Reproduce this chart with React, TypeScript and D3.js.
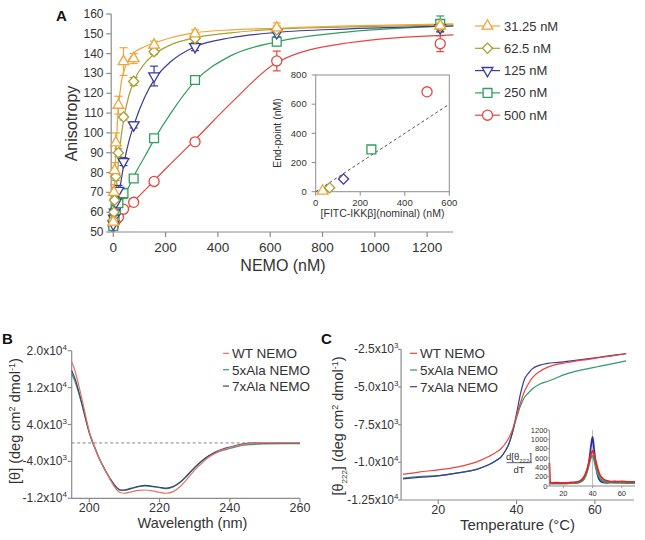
import React from "react";
import * as d3 from "d3";

const FONT = "'Liberation Sans', Arial, Helvetica, sans-serif";
const AXIS = "#8c8c8c";
const TXT = "#333333";

// ---------------- Panel A data ----------------
const nemoConc = [0, 2.44, 4.88, 9.77, 19.5, 39, 78, 156, 312.5, 625, 1250];
const seriesLabels = ["31.25 nM", "62.5 nM", "125 nM", "250 nM", "500 nM"];
const seriesColors = ["#F2A33A", "#A6A032", "#3B3B9A", "#2F9E5E", "#E5473E"];
const seriesShapes = ["triangle", "diamond", "triangleDown", "square", "circle"];

const aniso31 = [55, 70, 81, 95, 114, 136, 137.5, 144.3, 150, 153, 154];
const aniso62 = [56, 60, 66, 78, 90, 108, 126, 141, 147.7, 152, 154];
const aniso125 = [54, 57, 60, 65, 71, 85.5, 104, 128.7, 143.5, 150.5, 153];
const aniso250 = [53, 56, 58, 61, 64.5, 69.5, 77, 97.3, 126.7, 146, 155];
const aniso500 = [53, 54.5, 55.5, 56, 57.5, 61.5, 65, 75.5, 95.5, 136.3, 145];

const err31 = [2, 4, 4, 5, 4.5, 7, 2.5, 2, 2, 2.5, 2];
const err62 = [1.5, 2, 2, 2, 2, 1.5, 2, 1.5, 2, 2, 2];
const err125 = [1.5, 2, 2, 2, 2.5, 2, 1.5, 5, 2, 2, 2];
const err250 = [1.5, 2, 2, 2, 2, 2.5, 1.5, 1.5, 1.5, 2, 4];
const err500 = [1.5, 1.5, 1.5, 1.5, 1.5, 1.5, 1.5, 1.5, 1.5, 5, 4];

// fitted curves
const fitNemo = [0, 2.5, 5, 10, 15, 20, 30, 40, 60, 80, 120, 160, 220, 312, 450, 625, 900, 1300];
const fit31 = [55, 65, 75, 90, 104, 113, 125, 131, 137, 140.5, 143.5, 145.5, 148, 150.5, 152, 152.8, 154, 155];
const fit62 = [55, 58, 62, 70, 78, 86, 98, 107, 119, 126.5, 135, 140, 144.5, 148, 150.5, 152.4, 153.5, 154.5];
const fit125 = [54, 55.5, 57, 60.5, 64, 68, 76, 84, 96, 104.5, 118, 127.5, 136, 143.5, 148, 150.7, 152.5, 154];
const fit250 = [53, 54, 55, 57, 59, 61, 64.5, 68, 73, 78.5, 88, 97.5, 110, 126, 139, 146, 151, 154];
const fit500 = [53, 53.4, 53.8, 54.6, 55.4, 56.2, 57.8, 59.4, 62.5, 65.5, 71, 76.5, 84.5, 96.5, 115, 135.5, 145.5, 149.5];

const aYTicks = [50, 60, 70, 80, 90, 100, 110, 120, 130, 140, 150, 160];
const aXTicks = [0, 200, 400, 600, 800, 1000, 1200];

// inset A
const nominalIkk = [31.25, 62.5, 125, 250, 500];
const endPoint = [5, 27, 87, 290, 685];
const insetShapes = ["triangle", "diamond", "diamond", "square", "circle"];
const insetXTicks = [0, 200, 400, 600];
const insetYTicks = [0, 200, 400, 600, 800];
const identityLine = [0, 600];

// ---------------- Panel B data ----------------
const wavelength = [195, 196, 197, 198, 199, 200, 201, 202, 203, 204, 205, 206, 207, 208, 209, 210, 212, 214, 216, 218, 220, 222, 224, 226, 228, 230, 232, 234, 236, 238, 240, 242, 244, 246, 248, 250, 255, 260];
const cdWT = [17600, 15500, 12500, 9300, 5800, 2500, 200, -1800, -3600, -5200, -6600, -8000, -9300, -10300, -10800, -10900, -10600, -10300, -10200, -10400, -10700, -10900, -10500, -9400, -7700, -5900, -4400, -3100, -2200, -1500, -1000, -600, -300, -100, 0, 50, 80, 80];
const cd5x = [15000, 13200, 10800, 8000, 5000, 2200, 0, -1900, -3700, -5200, -6600, -7900, -9000, -9900, -10300, -10300, -9900, -9500, -9300, -9500, -9700, -9900, -9500, -8500, -7000, -5400, -4000, -2900, -2100, -1600, -1200, -800, -500, -350, -250, -200, -150, -150];
const cd7x = [15700, 13800, 11200, 8300, 5200, 2300, 100, -1800, -3600, -5100, -6500, -7800, -8900, -9800, -10200, -10200, -9800, -9400, -9200, -9400, -9600, -9800, -9400, -8400, -6900, -5300, -3900, -2800, -1900, -1300, -900, -500, -200, -50, 0, 30, 50, 50];
const bYTicks = [20000, 12000, 4000, -4000, -12000];
const bYMant = ["2.0x10", "1.2x10", "4.0x10", "-4.0x10", "-1.2x10"];
const bYExp = ["4", "4", "3", "3", "4"];
const bXTicks = [200, 220, 240, 260];
const cdLabels = ["WT NEMO", "5xAla NEMO", "7xAla NEMO"];

// ---------------- Panel C data ----------------
const temperature = [11, 15, 20, 25, 30, 33, 35, 36, 37, 38, 39, 40, 41, 42, 43, 44, 46, 48, 50, 52, 55, 58, 61, 64, 68];
const meltWT = [-10800, -10650, -10500, -10300, -9950, -9600, -9300, -9100, -8800, -8400, -7800, -6900, -6050, -5300, -4800, -4400, -3950, -3680, -3520, -3420, -3280, -3180, -3060, -2950, -2800];
const melt5x = [-11050, -10950, -10880, -10700, -10450, -10150, -9850, -9650, -9300, -8800, -7950, -7050, -6250, -5700, -5400, -5130, -4800, -4620, -4420, -4200, -3960, -3800, -3640, -3480, -3270];
const melt7x = [-11100, -11000, -10900, -10700, -10450, -10150, -9850, -9650, -9300, -8800, -8000, -6750, -5450, -4500, -4100, -3800, -3550, -3430, -3380, -3330, -3230, -3130, -3030, -2920, -2780];
const cYTicks = [-2500, -5000, -7500, -10000, -12500];
const cYMant = ["-2.5x10", "-5.0x10", "-7.5x10", "-1.0x10", "-1.25x10"];
const cYExp = ["3", "3", "3", "4", "4"];
const cXTicks = [20, 40, 60];

// inset C (first derivative)
const derivTemp = [10.5, 11, 12, 15, 20, 25, 30, 33, 35, 36, 37, 38, 39, 40, 41, 42, 43, 44, 45, 47, 50, 55, 60, 65, 69];
const derivWT = [500, 100, 60, 60, 60, 70, 90, 150, 250, 330, 430, 560, 690, 760, 680, 560, 430, 320, 240, 160, 110, 90, 100, 90, 90];
const deriv5x = [60, 50, 50, 50, 50, 60, 70, 110, 200, 290, 400, 520, 620, 650, 560, 430, 320, 230, 170, 110, 80, 70, 70, 60, 60];
const deriv7x = [80, 60, 60, 70, 60, 70, 80, 120, 220, 310, 430, 620, 880, 1050, 800, 500, 300, 180, 120, 80, 70, 100, 80, 60, 70];
const dYTicks = [0, 200, 400, 600, 800, 1000, 1200];
const dXTicks = [20, 40, 60];
const peakTemp = 40;

// ---------------- helpers ----------------
const symSize: Record<string, number> = { circle: 80, square: 78, diamond: 52, triangle: 50, triangleDown: 50 };
function symPath(shape: string, size: number) {
  const t = shape === "circle" ? d3.symbolCircle : shape === "square" || shape === "diamond" ? d3.symbolSquare : d3.symbolTriangle;
  return d3.symbol().type(t).size(size)() as string;
}
function Marker({ shape, x, y, color }: { shape: string; x: number; y: number; color: string }) {
  const rot = shape === "diamond" ? 45 : shape === "triangleDown" ? 180 : 0;
  return (
    <path d={symPath(shape, symSize[shape])} transform={`translate(${x},${y}) rotate(${rot})`} fill="white" stroke={color} strokeWidth={1.3} />
  );
}

export default function App() {
  // ----- Panel A scales -----
  const ax = d3.scaleLinear().domain([-8, 1300]).range([111.2, 453.3]);
  const ay = d3.scaleLinear().domain([50, 160]).range([232, 14]);
  const aSeries = [aniso31, aniso62, aniso125, aniso250, aniso500];
  const aErr = [err31, err62, err125, err250, err500];
  const aFits = [fit31, fit62, fit125, fit250, fit500];
  const fitLine = d3.line<number>().x((_, i) => ax(fitNemo[i])).y((d) => ay(d)).curve(d3.curveMonotoneX);
  const drawOrder = [4, 3, 2, 1, 0];

  const ix = d3.scaleLinear().domain([0, 600]).range([315.7, 449.3]);
  const iy = d3.scaleLinear().domain([0, 800]).range([191.7, 75]);

  // ----- Panel B -----
  const bx = d3.scaleLinear().domain([195, 260]).range([71.7, 300]);
  const by = d3.scaleLinear().domain([-12000, 20000]).range([498.3, 350.7]);
  const bLine = d3.line<number>().x((_, i) => bx(wavelength[i])).y((d) => by(d)).curve(d3.curveMonotoneX);
  const bColors = ["#E8706A", "#2F9A7A", "#3D4470"];
  const bData = [cdWT, cd5x, cd7x];

  // ----- Panel C -----
  const cx = d3.scaleLinear().domain([10.5, 70]).range([401.1, 634]);
  const cy = d3.scaleLinear().domain([-12500, -2500]).range([500, 349.3]);
  const cLine = d3.line<number>().x((_, i) => cx(temperature[i])).y((d) => cy(d)).curve(d3.curveMonotoneX);
  const cColors = ["#E8453C", "#2E9A6E", "#3A3D96"];
  const cData = [meltWT, melt5x, melt7x];

  const dx = d3.scaleLinear().domain([10.4, 69]).range([549.3, 635]);
  const dy = d3.scaleLinear().domain([0, 1200]).range([486, 430]);
  const dLine = d3.line<number>().x((_, i) => dx(derivTemp[i])).y((d) => dy(d)).curve(d3.curveMonotoneX);
  const dColors = ["#E82626", "#2EA070", "#30309A"];
  const dData = [derivWT, deriv5x, deriv7x];

  return (
    <svg width={645} height={540} style={{ position: "absolute", left: 0, top: 0, background: "white" }} fontFamily={FONT}>
      <rect x={0} y={0} width={645} height={540} fill="white" />

      {/* ================= Panel A ================= */}
      <text x={56} y={21} fontSize={15} fontWeight="bold" fill="#111">A</text>
      {/* axes */}
      <line x1={ax(-8)} x2={ax(-8)} y1={ay(50)} y2={ay(160)} stroke={AXIS} strokeWidth={1.2} />
      {aYTicks.map((t) => (
        <g key={"ay" + t}>
          <line x1={ax(-8) - 5} x2={ax(-8)} y1={ay(t)} y2={ay(t)} stroke={AXIS} strokeWidth={1.2} />
          <text x={103.5} y={ay(t) + 4} textAnchor="end" fontSize={12} fill={TXT}>{t}</text>
        </g>
      ))}
      <line x1={ax(-8)} x2={ax(1300)} y1={ay(50)} y2={ay(50)} stroke={AXIS} strokeWidth={1.2} />
      {aXTicks.map((t) => (
        <g key={"ax" + t}>
          <line x1={ax(t)} x2={ax(t)} y1={ay(50)} y2={ay(50) + 5} stroke={AXIS} strokeWidth={1.2} />
          <text x={ax(t)} y={251.5} textAnchor="middle" fontSize={13.5} fill={TXT}>{t}</text>
        </g>
      ))}
      <text transform="translate(77,123.5) rotate(-90)" textAnchor="middle" fontSize={16} fill={TXT}>Anisotropy</text>
      <text x={283} y={270.5} textAnchor="middle" fontSize={16} fill={TXT}>NEMO (nM)</text>

      {/* fit curves */}
      {drawOrder.map((s) => (
        <path key={"fit" + s} d={fitLine(aFits[s]) as string} fill="none" stroke={seriesColors[s]} strokeWidth={1.2} />
      ))}
      {/* error bars */}
      {drawOrder.map((s) =>
        aSeries[s].map((v, i) => {
          const x = ax(nemoConc[i]);
          const e = aErr[s][i];
          return (
            <g key={`eb${s}-${i}`} stroke={seriesColors[s]} strokeWidth={1.2}>
              <line x1={x} x2={x} y1={ay(v - e)} y2={ay(v + e)} />
              <line x1={x - 4} x2={x + 4} y1={ay(v - e)} y2={ay(v - e)} />
              <line x1={x - 4} x2={x + 4} y1={ay(v + e)} y2={ay(v + e)} />
            </g>
          );
        })
      )}
      {/* markers */}
      {drawOrder.map((s) =>
        aSeries[s].map((v, i) => (
          <Marker key={`m${s}-${i}`} shape={seriesShapes[s]} x={ax(nemoConc[i])} y={ay(v)} color={seriesColors[s]} />
        ))
      )}

      {/* legend A */}
      {seriesLabels.map((lab, i) => {
        const y = 26 + i * 22.3;
        return (
          <g key={"lg" + i}>
            <line x1={475} x2={500} y1={y} y2={y} stroke={seriesColors[i]} strokeWidth={1.2} />
            <Marker shape={seriesShapes[i]} x={487.5} y={y} color={seriesColors[i]} />
            <text x={504} y={y + 4.5} fontSize={13} fill={TXT}>{lab}</text>
          </g>
        );
      })}

      {/* inset A */}
      <rect x={ix(0)} y={iy(800)} width={ix(600) - ix(0)} height={iy(0) - iy(800)} fill="white" stroke={AXIS} strokeWidth={1} />
      {insetYTicks.map((t) => (
        <g key={"iy" + t}>
          <line x1={ix(0) - 4} x2={ix(0)} y1={iy(t)} y2={iy(t)} stroke={AXIS} strokeWidth={1} />
          <text x={306.7} y={iy(t) + 3.3} textAnchor="end" fontSize={9.5} fill={TXT}>{t}</text>
        </g>
      ))}
      {insetXTicks.map((t) => (
        <g key={"ix" + t}>
          <line x1={ix(t)} x2={ix(t)} y1={iy(0)} y2={iy(0) + 4} stroke={AXIS} strokeWidth={1} />
          <text x={ix(t)} y={206} textAnchor="middle" fontSize={9.5} fill={TXT}>{t}</text>
        </g>
      ))}
      <line x1={ix(identityLine[0])} y1={iy(identityLine[0])} x2={ix(identityLine[1])} y2={iy(identityLine[1])} stroke="#555" strokeWidth={1} strokeDasharray="3,2.5" />
      {nominalIkk.map((n, i) => (
        <Marker key={"im" + i} shape={insetShapes[i]} x={ix(n)} y={iy(endPoint[i])} color={seriesColors[i]} />
      ))}
      <text transform="translate(281,133) rotate(-90)" textAnchor="middle" fontSize={10.5} fill={TXT}>End-point (nM)</text>
      <text x={382.5} y={217} textAnchor="middle" fontSize={10.5} fill={TXT}>[FITC-IKKβ](nominal) (nM)</text>

      {/* ================= Panel B ================= */}
      <text x={2} y={344} fontSize={15} fontWeight="bold" fill="#111">B</text>
      <line x1={bx(195)} x2={bx(195)} y1={by(-12000)} y2={by(20000)} stroke={AXIS} strokeWidth={1.2} />
      {bYTicks.map((t, i) => (
        <g key={"by" + t}>
          <line x1={bx(195) - 4} x2={bx(195)} y1={by(t)} y2={by(t)} stroke={AXIS} strokeWidth={1.2} />
          <text x={67} y={by(t) + 4} textAnchor="end" fontSize={12} fill={TXT}>
            {bYMant[i]}
            <tspan dy={-5} fontSize={8}>{bYExp[i]}</tspan>
          </text>
        </g>
      ))}
      <line x1={bx(195)} x2={bx(260)} y1={by(-12000)} y2={by(-12000)} stroke={AXIS} strokeWidth={1.2} />
      {bXTicks.map((t) => (
        <g key={"bx" + t}>
          <line x1={bx(t)} x2={bx(t)} y1={by(-12000)} y2={by(-12000) + 4} stroke={AXIS} strokeWidth={1.2} />
          <text x={bx(t)} y={511.7} textAnchor="middle" fontSize={12.5} fill={TXT}>{t}</text>
        </g>
      ))}
      <line x1={bx(195)} x2={bx(260)} y1={by(0)} y2={by(0)} stroke="#777" strokeWidth={0.9} strokeDasharray="3,2.5" />
      {[1, 2, 0].map((s) => (
        <path key={"b" + s} d={bLine(bData[s]) as string} fill="none" stroke={bColors[s]} strokeWidth={1.2} />
      ))}
      <text transform="translate(20,421) rotate(-90)" textAnchor="middle" fontSize={14.5} fill={TXT}>
        [θ] (deg cm<tspan dy={-5} fontSize={9}>2</tspan>
        <tspan dy={5}> dmol</tspan>
        <tspan dy={-5} fontSize={9}>-1</tspan>
        <tspan dy={5}>)</tspan>
      </text>
      <text x={192.5} y={528} textAnchor="middle" fontSize={14.5} fill={TXT}>Wavelength (nm)</text>
      {cdLabels.map((lab, i) => (
        <g key={"lb" + i}>
          <line x1={223} x2={229} y1={353.3 + i * 16.4} y2={353.3 + i * 16.4} stroke={bColors[i]} strokeWidth={1.2} />
          <text x={232} y={358.3 + i * 16.4} fontSize={13.5} fill={TXT}>{lab}</text>
        </g>
      ))}

      {/* ================= Panel C ================= */}
      <text x={321} y={344} fontSize={15} fontWeight="bold" fill="#111">C</text>
      <line x1={cx(10.5)} x2={cx(10.5)} y1={cy(-12500)} y2={cy(-2500)} stroke={AXIS} strokeWidth={1.2} />
      {cYTicks.map((t, i) => (
        <g key={"cy" + t}>
          <line x1={cx(10.5) - 3} x2={cx(10.5)} y1={cy(t)} y2={cy(t)} stroke={AXIS} strokeWidth={1.2} />
          <text x={398.5} y={cy(t) + 4} textAnchor="end" fontSize={12} fill={TXT}>
            {cYMant[i]}
            <tspan dy={-5} fontSize={8}>{cYExp[i]}</tspan>
          </text>
        </g>
      ))}
      <line x1={cx(10.5)} x2={cx(70)} y1={cy(-12500)} y2={cy(-12500)} stroke={AXIS} strokeWidth={1.2} />
      {cXTicks.map((t) => (
        <g key={"cx" + t}>
          <line x1={cx(t)} x2={cx(t)} y1={cy(-12500)} y2={cy(-12500) + 4} stroke={AXIS} strokeWidth={1.2} />
          <text x={cx(t)} y={513.5} textAnchor="middle" fontSize={12.5} fill={TXT}>{t}</text>
        </g>
      ))}
      {[1, 2, 0].map((s) => (
        <path key={"c" + s} d={cLine(cData[s]) as string} fill="none" stroke={cColors[s]} strokeWidth={1.2} />
      ))}
      <text transform="translate(343,426) rotate(-90)" textAnchor="middle" fontSize={14.5} fill={TXT}>
        [θ<tspan dy={4} fontSize={8}>222</tspan>
        <tspan dy={-4}>] (deg cm</tspan>
        <tspan dy={-5} fontSize={9}>2</tspan>
        <tspan dy={5}> dmol</tspan>
        <tspan dy={-5} fontSize={9}>-1</tspan>
        <tspan dy={5}>)</tspan>
      </text>
      <text x={517.5} y={530} textAnchor="middle" fontSize={15} fill={TXT}>Temperature (°C)</text>
      {cdLabels.map((lab, i) => (
        <g key={"lc" + i}>
          <line x1={410} x2={417} y1={353.3 + i * 16.7} y2={353.3 + i * 16.7} stroke={cColors[i]} strokeWidth={1.2} />
          <text x={420} y={358.3 + i * 16.7} fontSize={13.5} fill={TXT}>{lab}</text>
        </g>
      ))}

      {/* inset C */}
      <line x1={dx(peakTemp)} x2={dx(peakTemp)} y1={dy(1200)} y2={dy(0)} stroke="#aaa" strokeWidth={0.8} />
      {[2, 1, 0].map((s) => (
        <path key={"d" + s} d={dLine(dData[s]) as string} fill="none" stroke={dColors[s]} strokeWidth={1.8} />
      ))}
      <line x1={dx(10.4)} x2={dx(10.4)} y1={dy(0)} y2={dy(1200)} stroke={AXIS} strokeWidth={1} />
      <line x1={dx(10.4)} x2={dx(69)} y1={dy(0)} y2={dy(0)} stroke={AXIS} strokeWidth={1} />
      {dYTicks.map((t) => (
        <g key={"dy" + t}>
          <line x1={dx(10.4) - 2} x2={dx(10.4)} y1={dy(t)} y2={dy(t)} stroke={AXIS} strokeWidth={0.8} />
          <text x={547.5} y={dy(t) + 2.6} textAnchor="end" fontSize={7.5} fill={TXT}>{t}</text>
        </g>
      ))}
      {dXTicks.map((t) => (
        <g key={"dx" + t}>
          <line x1={dx(t)} x2={dx(t)} y1={dy(0)} y2={dy(0) + 2} stroke={AXIS} strokeWidth={0.8} />
          <text x={dx(t)} y={496} textAnchor="middle" fontSize={7.5} fill={TXT}>{t}</text>
        </g>
      ))}
      <text x={519} y={460} textAnchor="middle" fontSize={9.5} fill={TXT}>
        d[θ<tspan dy={2.5} fontSize={6}>222</tspan>
        <tspan dy={-2.5}>]</tspan>
      </text>
      <line x1={506.5} x2={532} y1={462.7} y2={462.7} stroke={TXT} strokeWidth={0.8} />
      <text x={519} y={472.5} textAnchor="middle" fontSize={9.5} fill={TXT}>dT</text>
    </svg>
  );
}
